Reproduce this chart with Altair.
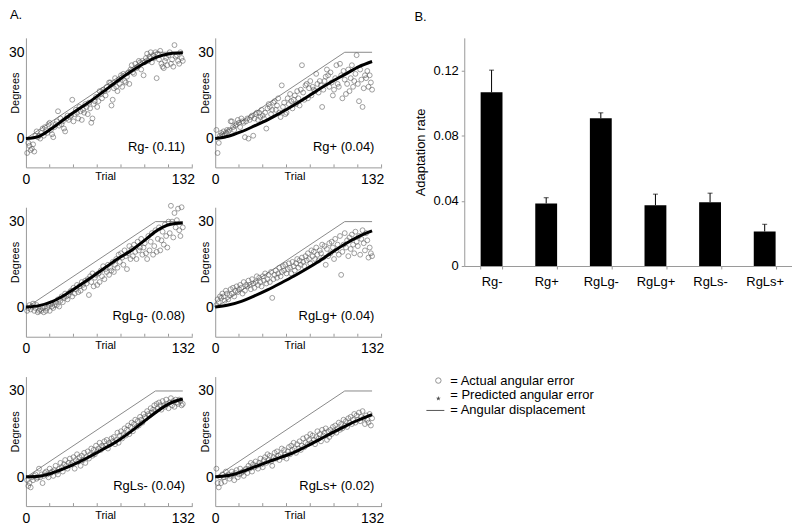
import altair as alt
import pandas as pd

FONT = "Liberation Sans"

# ---------------- data ----------------
trials = list(range(1, 133))
pred_trials = [0, 11, 22, 33, 44, 55, 66, 77, 88, 99, 110, 121, 132]
disp_trials = [0, 109, 132]
disp_deg = [0, 30, 30]
minor_ticks = [20, 40, 60, 80, 100, 120, 140]

actual_rg_minus = [
    -5, -1.5, -2.5, -4, -3.5, -2, -4.5, 1, 2.5, 0.5, 1, 0,
    2, 3.5, 1, 4, 3, 2, 5, 5.5, 3, 1.5, 0.5, 4,
    5, 6, 9.5, 4.5, 7, 5, 6, 3.5, 2.5, 7, 8, 6.5,
    7.5, 8, 13.5, 6, 8.5, 10, 9, 7, 11, 9.5, 6.5, 10,
    9, 12, 11, 8.5, 12.5, 10.5, 5.5, 7, 12, 13, 14.5, 11,
    13, 16.5, 15.5, 14, 17, 16.5, 15, 18, 17, 19.5, 19.5, 11.5,
    13.5, 17.5, 21, 18, 16.5, 20.5, 19, 22, 18, 22.5, 20, 19.5,
    21.5, 23, 19, 24, 25.5, 23, 22.5, 26, 24.5, 25, 27, 26.5,
    24, 27, 22, 26.5, 28, 29.5, 27, 28.5, 30, 26.5, 29, 28,
    30, 21, 29.5, 27.5, 30.5, 26, 25, 24.5, 27, 28, 25.5, 29,
    30, 26, 27.5, 25, 32.5, 28.5, 29, 27, 26, 30, 28, 27]
actual_rg_plus = [
    3, -5, -1.5, 1, 2, 1.5, 2.5, 1, 2, 3, 2.5, 3,
    6, 6, 4, 3, 4.5, 5, 6.5, 5.5, 4, 7, 6, 5.5,
    0.5, 6, 7, 0, 6.5, 7.5, 8, 1, 7, 8.5, 9, 6.5,
    9, 7.5, 10, 8, 7, 9, 3.5, 10.5, 12, 11, 8.5, 10,
    12.5, 13, 10, 11.5, 14, 9, 7.5, 18.5, 11, 12.5, 8.5, 9,
    14, 12, 15.5, 13, 10.5, 13.5, 15, 12, 16.5, 14, 11.5, 17,
    25.5, 16, 13.5, 18.5, 19, 14, 17.5, 20, 15, 18, 17, 16.5,
    22.5, 19, 16, 20, 18.5, 11, 17, 20, 21.5, 24, 22, 18,
    23, 19.5, 15, 17, 21, 25.5, 19, 18, 26, 22, 14, 23.5,
    20.5, 15.5, 19, 24, 16.5, 21, 25.5, 18, 20, 22.5, 29, 19,
    13, 24, 20.5, 11, 17.5, 22, 21, 23.5, 18, 22, 19.5, 17]
actual_rglg_minus = [
    -1, 0, 1, -0.5, 0.5, 1.5, -1, 0, 1, -1.5, -1, -0.5,
    -1, 0, -1.5, 0.5, -1, 0, 1, -1, 1.5, 0.5, 0, 1,
    2, 1, 3, 0.5, 2.5, 4, 2, 3.5, 5, 4, 3, 4.5,
    5.5, 6, 4, 7, 5, 6.5, 8, 5.5, 7.5, 6, 9, 8,
    7, 9.5, 8.5, 10, 4.5, 11, 9, 12, 7.5, 10.5, 11.5, 8,
    12, 9, 13, 11, 14.5, 10, 13.5, 12.5, 15, 11.5, 14, 13,
    16, 12.5, 15, 17, 14, 18.5, 16, 19, 17.5, 15, 20, 18,
    13.5, 19, 21.5, 17, 20.5, 18, 22, 19.5, 17, 23, 20, 21,
    24, 18.5, 21, 22.5, 19, 17, 25, 20, 23, 26, 18.5, 21.5,
    27, 19.5, 24, 28, 20, 23.5, 26.5, 22, 29, 25, 21, 30,
    26, 35.5, 30, 24.5, 33, 28, 30.5, 34.5, 27, 25, 35, 28]
actual_rglg_plus = [
    1, 3, 2, 4, 3.5, 5, 4, 2.5, 6, 5, 3, 4.5,
    6.5, 5, 7, 4, 6, 7.5, 5.5, 6.5, 8, 7, 5, 9,
    6, 8, 7.5, 9.5, 8, 6.5, 10, 8.5, 7, 9, 11, 8,
    10.5, 9, 7.5, 11, 9.5, 12, 8.5, 10, 11.5, 9, 12.5, 3.5,
    10, 11.5, 13, 10.5, 12, 14, 11, 12.5, 14.5, 13, 15, 12,
    13.5, 15.5, 14, 12, 16, 14.5, 13, 15.5, 17, 14, 16.5, 15,
    17.5, 16, 14.5, 18, 16.5, 19, 17, 15.5, 20, 18, 19.5, 17,
    21, 18.5, 16.5, 20, 19, 22, 17.5, 21.5, 15, 20.5, 18, 22.5,
    19, 23, 21, 17, 24, 20, 22, 18.5, 25, 11.5, 19.5, 22,
    26, 21, 23.5, 18, 24.5, 20.5, 25.5, 22, 19, 26.5, 23, 21.5,
    25, 18.5, 24, 27, 22.5, 20, 26, 23.5, 17.5, 21, 19, 18]
actual_rgls_minus = [
    -1, -3, -2, -3.5, 0, -1, 0.5, 1, -0.5, 0, 3, 0,
    1, -2, 0.5, 1.5, 2, 1, 0, 3, 1.5, 2, 0.5, 2.5,
    4, 2, 1, 3, 5, 3.5, 2, 4.5, 6, 4, 3, 5,
    6.5, 4.5, 5, 7, 3, 6, 8, 5.5, 7, 4, 7.5, 6,
    8.5, 5, 7, 9, 6.5, 8, 10, 7.5, 9.5, 8, 11, 9,
    10, 12, 9.5, 11, 10.5, 12.5, 11, 13, 10, 12, 11.5, 13.5,
    12.5, 14, 11.5, 13, 15.5, 12, 14.5, 16, 13.5, 15, 17, 14.5,
    16.5, 18, 15, 17.5, 19, 16, 18.5, 20, 17.5, 19.5, 18, 21,
    20, 19, 22, 21, 20.5, 23, 22, 21.5, 24, 22.5, 23.5, 25,
    23, 25.5, 24, 26, 25, 23.5, 26.5, 25, 24.5, 27, 25.5, 24,
    26, 27.5, 25, 26.5, 24.5, 27, 26, 25.5, 27, 26.5, 25, 25.5]
actual_rgls_plus = [
    3, -2, -3.5, 0, -2, 1, 0, -1.5, 2, 0.5, 1, -0.5,
    0.5, 2, 1, -1, 1.5, 2.5, 0, 1, 3, 1.5, 2, 0.5,
    2.5, 3, 1.5, 4, 3, 5, 2, 4.5, 3.5, 5.5, 4, 3,
    5, 6.5, 4.5, 3.5, 6, 7, 5, 8, 6, 7.5, 5.5, 4,
    7, 8.5, 6.5, 9, 7.5, 6, 8, 10, 7, 9.5, 8, 6.5,
    9, 10.5, 8, 11, 9.5, 12, 10, 8.5, 11.5, 10, 12.5, 9.5,
    11, 13.5, 10.5, 12, 14, 11.5, 13, 15, 12, 14.5, 13, 11.5,
    14, 16, 13.5, 15, 12.5, 16.5, 14.5, 15.5, 17, 13, 16, 14,
    16.5, 15, 17.5, 16, 18, 15.5, 17, 19, 16.5, 18.5, 17, 20,
    18, 19.5, 17.5, 20.5, 19, 21, 18.5, 20, 22, 19, 21.5, 20,
    22.5, 19.5, 21, 23, 20.5, 18.5, 21.5, 20, 19, 22, 18, 20.5]

pred_rg_minus = [0, 0.8, 3.6, 7.0, 10.2, 13.2, 16.6, 20, 23.2, 26, 28.3, 29.5, 29.8]
pred_rg_plus = [0, 0.8, 2.4, 4.4, 6.5, 9, 11.6, 14.4, 17.3, 20, 22.5, 25, 26.8]
pred_rglg_minus = [0.3, 0.8, 2.2, 4.6, 7.5, 10.6, 13.8, 17, 19.8, 23.2, 26.8, 29, 29.5]
pred_rglg_plus = [0.3, 1, 2.3, 4.2, 6.3, 8.6, 11, 13.6, 16.4, 19.5, 22.4, 24.9, 26.8]
pred_rgls_minus = [0.2, 0.4, 1.5, 3.2, 5.2, 7.5, 10, 12.6, 15.8, 19.3, 22.8, 25.7, 27.2]
pred_rgls_plus = [0.2, 0.6, 1.9, 3.6, 5.3, 6.9, 8.6, 10.8, 13.2, 15.6, 17.9, 20, 21.8]

panel_labels = ["Rg- (0.11)", "Rg+ (0.04)", "RgLg- (0.08)",
                "RgLg+ (0.04)", "RgLs- (0.04)", "RgLs+ (0.02)"]

conditions = ["Rg-", "Rg+", "RgLg-", "RgLg+", "RgLs-", "RgLs+"]
rates = [0.1066, 0.0384, 0.0907, 0.0373, 0.0392, 0.0212]
rate_err = [0.0136, 0.0035, 0.0033, 0.0068, 0.0055, 0.0044]

legend_labels = ["= Actual angular error", "= Predicted angular error",
                 "= Angular displacement"]

# ---------------- panel A ----------------
W, H = 167, 130
GRAY_AX = "#9a9a9a"


def panel(actual, pred, label, corner=None):
    df_a = pd.DataFrame({"trial": trials, "deg": actual})
    df_p = pd.DataFrame({"trial": pred_trials, "deg": pred})
    df_d = pd.DataFrame({"trial": disp_trials, "deg": disp_deg})
    df_t = pd.DataFrame({"trial": minor_ticks})
    df_l = pd.DataFrame({"label": [label]})

    xs = alt.Scale(domain=[0, 140], nice=False, zero=False)
    ys = alt.Scale(domain=[-10, 35], nice=False, zero=False)
    xax = alt.Axis(values=[0, 132], title="Trial", labelFontSize=14,
                   labelFlush=False, ticks=False, tickSize=0, grid=False,
                   domainColor=GRAY_AX, labelPadding=5, titleFontSize=11,
                   titleFontWeight="normal", titleX=W / 2 - 4, titleY=12,
                   titleAlign="center", titleBaseline="alphabetic")
    yax = alt.Axis(values=[0, 30], title="Degrees", labelFontSize=14,
                   ticks=False, tickSize=0, grid=False, domainColor=GRAY_AX,
                   labelPadding=2, titleFontSize=11, titleFontWeight="normal",
                   titleX=-10, titleY=55, titleAlign="center",
                   titleBaseline="middle")

    disp = alt.Chart(df_d).mark_line(color="#8a8a8a", strokeWidth=1).encode(
        x=alt.X("trial:Q", scale=xs, axis=xax),
        y=alt.Y("deg:Q", scale=ys, axis=yax))
    pts = alt.Chart(df_a).mark_point(shape="circle", filled=False,
                                     color="#555555", size=24,
                                     strokeWidth=0.8).encode(
        x="trial:Q", y="deg:Q")
    prd = alt.Chart(df_p).mark_line(color="black", strokeWidth=3,
                                    interpolate="monotone").encode(
        x="trial:Q", y="deg:Q")
    ticks = alt.Chart(df_t).mark_rule(color=GRAY_AX, strokeWidth=1).encode(
        x="trial:Q", y=alt.value(H), y2=alt.value(H - 3))
    txt = alt.Chart(df_l).mark_text(align="right", baseline="alphabetic",
                                    fontSize=13, font=FONT,
                                    color="black").encode(
        x=alt.datum(134), y=alt.datum(-4.3), text="label:N")
    layers = [disp, pts, prd, ticks, txt]
    if corner is not None:
        df_c = pd.DataFrame({"t": [corner]})
        layers.append(alt.Chart(df_c).mark_text(
            align="left", baseline="top", fontSize=13, font=FONT,
            color="black").encode(x=alt.value(-16), y=alt.value(-29),
                                  text="t:N"))
    return alt.layer(*layers).properties(width=W, height=H)


p1 = panel(actual_rg_minus, pred_rg_minus, panel_labels[0], corner="A.")
p2 = panel(actual_rg_plus, pred_rg_plus, panel_labels[1])
p3 = panel(actual_rglg_minus, pred_rglg_minus, panel_labels[2])
p4 = panel(actual_rglg_plus, pred_rglg_plus, panel_labels[3])
p5 = panel(actual_rgls_minus, pred_rgls_minus, panel_labels[4])
p6 = panel(actual_rgls_plus, pred_rgls_plus, panel_labels[5])

grid_a = alt.concat(p1, p2, p3, p4, p5, p6, columns=2,
                    spacing={"row": 40, "column": 23}, bounds="flush")

# ---------------- panel B ----------------
BW, BH = 329, 229
df_b = pd.DataFrame({"cond": conditions, "rate": rates,
                     "hi": [r + e for r, e in zip(rates, rate_err)]})
bx = alt.X("cond:N", sort=conditions,
           scale=alt.Scale(paddingInner=0.6, paddingOuter=0.3),
           axis=alt.Axis(title=None, labelAngle=0, labelFontSize=13,
                         tickBand="extent", tickSize=3, tickColor=GRAY_AX,
                         domainColor=GRAY_AX, labelPadding=7, grid=False))
by = alt.Y("rate:Q", scale=alt.Scale(domain=[0, 0.14], nice=False),
           axis=alt.Axis(values=[0, 0.02, 0.04, 0.06, 0.08, 0.1, 0.12, 0.14],
                         labelExpr="abs(datum.value/0.04 - round(datum.value/0.04)) < 0.01 ? (datum.value == 0 ? '0' : format(datum.value, '.2f')) : ''",
                         title="Adaptation rate", titleFontSize=13,
                         titleFontWeight="normal", labelFontSize=13,
                         tickSize=3, tickColor=GRAY_AX, domainColor=GRAY_AX,
                         grid=False, labelPadding=3, titlePadding=6))
bars = alt.Chart(df_b).mark_bar(color="black").encode(x=bx, y=by)
err = alt.Chart(df_b).mark_rule(color="black", strokeWidth=1).encode(
    x=alt.X("cond:N", sort=conditions), y="rate:Q", y2="hi:Q")
cap = alt.Chart(df_b).mark_tick(color="black", thickness=1, size=5).encode(
    x=alt.X("cond:N", sort=conditions), y="hi:Q")
blabel = alt.Chart(pd.DataFrame({"t": ["B."]})).mark_text(
    align="left", baseline="top", fontSize=13, font=FONT,
    color="black").encode(x=alt.value(-50), y=alt.value(-27), text="t:N")
panel_b = alt.layer(bars, err, cap, blabel).properties(width=BW, height=BH)

# ---------------- legend ----------------
df_leg = pd.DataFrame({"row": [0, 1, 2], "label": legend_labels})
ly = alt.Y("row:Q", scale=alt.Scale(domain=[0, 2], range=[15, 45]), axis=None)
leg_text = alt.Chart(df_leg).mark_text(
    align="left", baseline="middle", fontSize=13, font=FONT,
    color="black").encode(x=alt.value(-14), y=ly, text="label:N")
leg_circle = alt.Chart(df_leg).transform_filter("datum.row == 0").mark_point(
    shape="circle", filled=False, color="#555555", size=30,
    strokeWidth=0.9).encode(x=alt.value(-26), y=ly)
STAR = ("M0,-1L0.24,-0.33L0.95,-0.31L0.38,0.12L0.59,0.81L0,0.4L-0.59,0.81"
        "L-0.38,0.12L-0.95,-0.31L-0.24,-0.33Z")
leg_star = alt.Chart(df_leg).transform_filter("datum.row == 1").mark_point(
    shape=STAR, filled=True, color="black", size=25, yOffset=3).encode(
    x=alt.value(-26), y=ly)
leg_line = alt.Chart(df_leg).transform_filter("datum.row == 2").mark_rule(
    color="#555555", strokeWidth=1).encode(
    x=alt.value(-38), x2=alt.value(-20), y=ly)
legend = alt.layer(leg_text, leg_circle, leg_star, leg_line).properties(
    width=BW, height=50)

right = alt.vconcat(panel_b, legend, spacing=100, bounds="flush")

chart = alt.hconcat(grid_a, right, spacing=29).properties(
    padding=0
).configure(font=FONT).configure_view(
    strokeWidth=0, stroke="transparent"
).configure_axis(labelColor="black", titleColor="black", labelFont=FONT,
                 titleFont=FONT)

chart.save("out.html", embed_options={"renderer": "svg", "actions": False})
